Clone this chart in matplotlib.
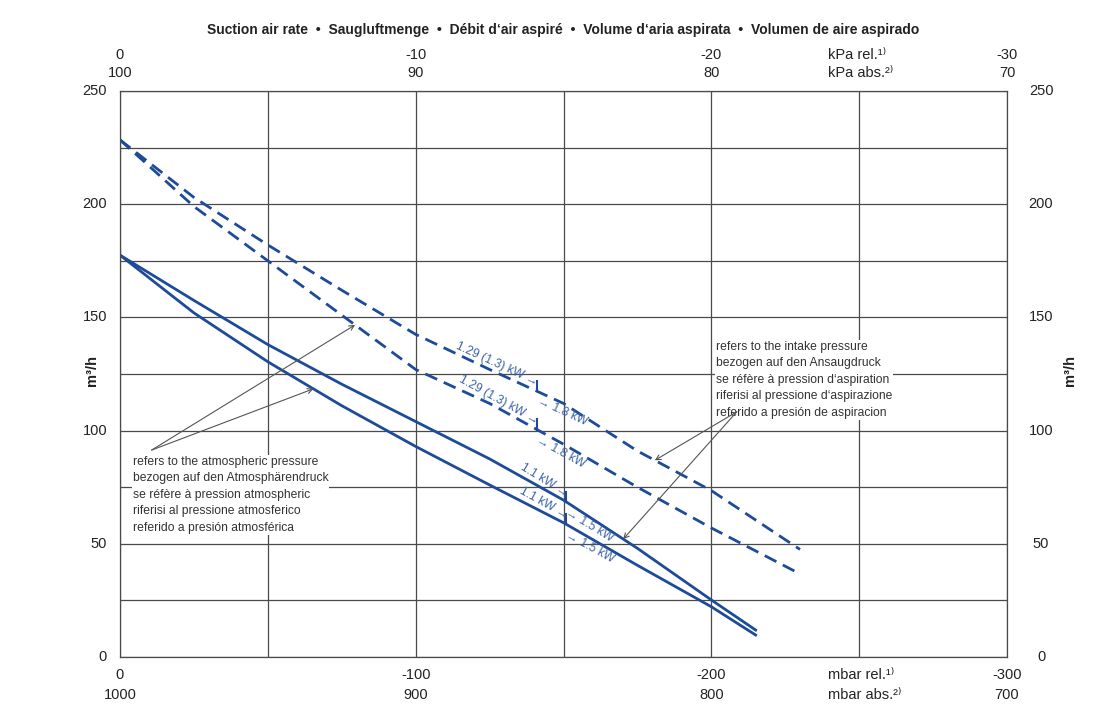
import numpy as np
import matplotlib
matplotlib.use("Agg")
import matplotlib.pyplot as plt
from matplotlib import font_manager as fm
import matplotlib.transforms as mtransforms

# ---------------- data ----------------
title = "Suction air rate  •  Saugluftmenge  •  Débit d‘air aspiré  •  Volume d‘aria aspirata  •  Volumen de aire aspirado"

x_mbar = [0, -25, -50, -75, -100, -125, -150, -175, -200, -215]
solid_upper = [177.5, 157.5, 138.0, 120.5, 104.0, 87.5, 69.3, 48.0, 25.2, 11.9]
solid_lower = [177.5, 152.0, 130.4, 111.0, 93.0, 76.0, 59.3, 40.5, 22.2, 9.7]

x_mbar_dashed = [0, -25, -50, -75, -100, -125, -150, -175, -200, -230]
dashed_upper = [228.4, 203.0, 182.0, 162.0, 142.5, 127.0, 112.0, 91.0, 73.5, 47.5]
dashed_lower = [228.4, 199.0, 175.0, 151.0, 127.0, 112.0, 94.0, 75.0, 57.0, 36.7]

y_ticks = [0, 50, 100, 150, 200, 250]
mbar_ticks = [0, -100, -200, -300]
mbar_rel_labels = ["0", "-100", "-200", "-300"]
mbar_abs_labels = ["1000", "900", "800", "700"]
kpa_rel_labels = ["0", "-10", "-20", "-30"]
kpa_abs_labels = ["100", "90", "80", "70"]

dashed_switch = -141
solid_switch = -151

left_note = ("refers to the atmospheric pressure\n"
             "bezogen auf den Atmosphärendruck\n"
             "se réfère à pression atmospheric\n"
             "riferisi al pressione atmosferico\n"
             "referido a presión atmosférica")
right_note = ("refers to the intake pressure\n"
              "bezogen auf den Ansaugdruck\n"
              "se réfère à pression d‘aspiration\n"
              "riferisi al pressione d‘aspirazione\n"
              "referido a presión de aspiracion")

# ---------------- style ----------------
names = {f.name for f in fm.fontManager.ttflist}
base = "Liberation Sans Narrow" if "Liberation Sans Narrow" in names else "Liberation Sans"
FAM = [base, "DejaVu Sans"]
plt.rcParams["font.family"] = FAM

BLUE = "#1d4b99"
LBLUE = "#3b63a8"
GRID = "#4a4a4a"
TXT = "#222222"

fig = plt.figure(figsize=(10.94, 7.13), dpi=100)
ax = fig.add_axes([120/1094, 1-657/713, 887/1094, 566/713])
ax.set_xlim(0, -300)
ax.set_ylim(0, 250)
ax.set_xticks(np.arange(0, -301, -50))
ax.set_yticks(np.arange(0, 251, 25))
ax.tick_params(length=0, labelleft=False, labelbottom=False)
ax.grid(True, color=GRID, lw=0.9)
for s in ax.spines.values():
    s.set_color(GRID)
    s.set_linewidth(0.9)

lw = 2.0
ax.plot(x_mbar, solid_upper, color=BLUE, lw=lw, solid_joinstyle="round")
ax.plot(x_mbar, solid_lower, color=BLUE, lw=lw, solid_joinstyle="round")
ax.plot(x_mbar_dashed, dashed_upper, color=BLUE, lw=lw, dashes=(4.7, 2.6))
ax.plot(x_mbar_dashed, dashed_lower, color=BLUE, lw=lw, dashes=(4.7, 2.6))

# ---------------- switch marks and labels ----------------
def interp(xs, ys, x):
    return float(np.interp(x, xs[::-1], ys[::-1]))

def switch_label(xs, ys, xpos, before, after, tick_h=4.5):
    y0 = interp(xs, ys, xpos)
    p1 = ax.transData.transform((xpos + 8, interp(xs, ys, xpos + 8)))
    p2 = ax.transData.transform((xpos - 8, interp(xs, ys, xpos - 8)))
    ang = np.degrees(np.arctan2(p2[1] - p1[1], p2[0] - p1[0]))
    a = np.radians(ang)
    d = np.array([np.cos(a), np.sin(a)])
    n = np.array([-np.sin(a), np.cos(a)])
    ax.plot([xpos, xpos], [y0, y0 + tick_h], color=BLUE, lw=1.5)
    o1 = -2.5 * d + 1.0 * n
    o2 = 3.5 * d - 1.5 * n
    ax.annotate(before, (xpos, y0), xytext=tuple(o1), textcoords="offset points",
                rotation=ang, rotation_mode="anchor", ha="right", va="bottom",
                fontsize=8.7, color=LBLUE)
    ax.annotate(after, (xpos, y0), xytext=tuple(o2), textcoords="offset points",
                rotation=ang, rotation_mode="anchor", ha="left", va="top",
                fontsize=8.7, color=LBLUE)

switch_label(x_mbar_dashed, dashed_upper, dashed_switch, "1.29 (1.3) kW →", "→ 1.8 kW")
switch_label(x_mbar_dashed, dashed_lower, dashed_switch, "1.29 (1.3) kW →", "→ 1.8 kW")
switch_label(x_mbar, solid_upper, solid_switch, "1.1 kW →", "→ 1.5 kW")
switch_label(x_mbar, solid_lower, solid_switch, "1.1 kW →", "→ 1.5 kW")

# ---------------- notes with pointers ----------------
NOTE = "#333333"
ax.text(-4.4, 88.8, left_note, ha="left", va="top", fontsize=8.7, color=NOTE,
        linespacing=1.5, bbox=dict(facecolor="white", edgecolor="none", pad=0.5))
ax.text(-201.6, 139.6, right_note, ha="left", va="top", fontsize=8.7, color=NOTE,
        linespacing=1.5, bbox=dict(facecolor="white", edgecolor="none", pad=0.5))

arrow = dict(arrowstyle="->,head_length=0.35,head_width=0.18", color="#555555", lw=0.8,
             shrinkA=0, shrinkB=0)
for tx, ty in [(-79.5, interp(x_mbar_dashed, dashed_lower, -79.5)),
               (-65.4, interp(x_mbar, solid_lower, -65.4))]:
    ax.annotate("", xy=(tx, ty), xytext=(-10.7, 91.4), arrowprops=arrow)
for tx, ty in [(-180.9, interp(x_mbar_dashed, dashed_upper, -180.9)),
               (-170.2, interp(x_mbar, solid_upper, -170.2))]:
    ax.annotate("", xy=(tx, ty), xytext=(-208.6, 108.3), arrowprops=arrow)

# ---------------- axis texts ----------------
TS = 10.5
yl = mtransforms.blended_transform_factory(ax.transAxes, ax.transData)
for v in y_ticks:
    ax.text(-13/887, v, str(v), transform=yl, ha="right", va="center", fontsize=TS, color=TXT)
    ax.text(921/887, v, str(v), transform=yl, ha="center", va="center", fontsize=TS, color=TXT)

xl = mtransforms.blended_transform_factory(ax.transData, ax.transAxes)
for xp, r, a in zip(mbar_ticks, mbar_rel_labels, mbar_abs_labels):
    ax.text(xp, (657-675)/566, r, transform=xl, ha="center", va="center", fontsize=TS, color=TXT)
    ax.text(xp, (657-695)/566, a, transform=xl, ha="center", va="center", fontsize=TS, color=TXT)
for xp, r, a in zip(mbar_ticks, kpa_rel_labels, kpa_abs_labels):
    ax.text(xp, (657-55)/566, r, transform=xl, ha="center", va="center", fontsize=TS, color=TXT)
    ax.text(xp, (657-73)/566, a, transform=xl, ha="center", va="center", fontsize=TS, color=TXT)

ux = (828-120)/887
ax.text(ux, (657-675)/566, "mbar rel.¹⁾", transform=ax.transAxes, ha="left", va="center", fontsize=TS, color=TXT)
ax.text(ux, (657-695)/566, "mbar abs.²⁾", transform=ax.transAxes, ha="left", va="center", fontsize=TS, color=TXT)
ax.text(ux, (657-55)/566, "kPa rel.¹⁾", transform=ax.transAxes, ha="left", va="center", fontsize=TS, color=TXT)
ax.text(ux, (657-73)/566, "kPa abs.²⁾", transform=ax.transAxes, ha="left", va="center", fontsize=TS, color=TXT)

fig.text(92/1094, 1-370/713, "m³/h", rotation=90, ha="center", va="center",
         fontsize=10.5, fontweight="bold", color=TXT)
fig.text(1070/1094, 1-370/713, "m³/h", rotation=90, ha="center", va="center",
         fontsize=10.5, fontweight="bold", color=TXT)

fig.text(563/1094, 1-30/713, title, ha="center", va="center", fontsize=10,
         fontweight="bold", color=TXT)

fig.savefig("out.png", dpi=100)
